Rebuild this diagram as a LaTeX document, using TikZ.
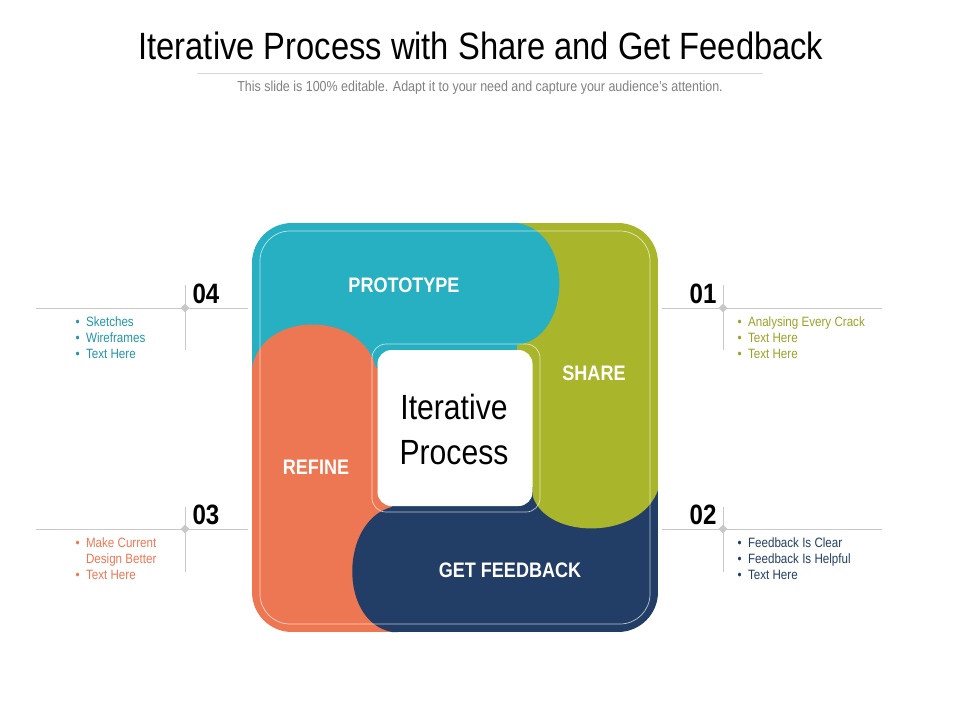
\documentclass[tikz,border=0pt]{standalone}
\usepackage{fontspec}
\setmainfont{Liberation Sans}[FakeStretch=0.86]
\usepackage{xcolor}
\definecolor{tealColor}{HTML}{27AFC2}
\definecolor{greenColor}{HTML}{A9B52A}
\definecolor{navyColor}{HTML}{223E66}
\definecolor{orangeColor}{HTML}{EE7753}
\definecolor{lineGray}{HTML}{C8C8C8}
\usetikzlibrary{positioning,calc,shapes.geometric}
\tikzset{
  stageLabel/.style={
    text=white,
    font=\bfseries\fontsize{21}{23}\selectfont
 },
  numLabel/.style={
    font=\bfseries\fontsize{28}{30}\selectfont,
    anchor=west
 },
  noteText/.style={
    anchor=north west,
    align=left,
    font=\fontsize{13.5}{16}\selectfont
 },
  guideLine/.style={
    draw=lineGray,
    line width=0.8pt
 },
  knot/.style={
    diamond,
    fill=lineGray,
    inner sep=0pt,
    minimum size=9pt
 }
}

\begin{document}
\begin{tikzpicture}[x=1pt,y=-1pt]

            \useasboundingbox (0,0) rectangle (960,720);

            % title
            \node (title) at (481,46) {\fontsize{38}{40}\selectfont Iterative Process with Share and Get Feedback};
            \draw[guideLine, draw=lineGray!70] (197,73) -- (763,73);
            \node[text=gray] (subtitle) at (480,88) {\fontsize{14.5}{16}\selectfont This slide is 100\% editable. Adapt it to your need and capture your audience's attention.};

            \begin{scope}
              \clip[rounded corners=40] (252,223) rectangle (658,632);
              % bodies
              \fill[tealColor] (252,223) rectangle (517,368);
              \fill[greenColor] (517,223) rectangle (658,487);
              \fill[navyColor] (392,487) rectangle (658,632);
              \fill[orangeColor] (252,368) rectangle (392,632);

              % bumps
              \fill[tealColor] (505,223) -- (517,223) .. controls (575,232) and (572,338) .. (517,345) -- (505,345) -- cycle;
              \fill[greenColor] (533,487) -- (533,497) .. controls (548,540) and (640,540) .. (658,490) -- (658,487) -- cycle;
              \fill[navyColor] (398,507) -- (392,507) .. controls (340,520) and (338,622) .. (392,632) -- (398,632) -- cycle;
              \fill[orangeColor] (252,368) .. controls (262,310) and (362,310) .. (376,368) -- cycle;
            \end{scope}

            % thin frames
            \draw[white, opacity=0.7, line width=0.7pt, rounded corners=30] (260,231) rectangle (650,624);
            \draw[white, opacity=0.7, line width=0.7pt, rounded corners=14] (372,344) rectangle (540,512);

            % centre card
            \node[fill=white, rounded corners=14, minimum width=155pt, minimum height=156pt] (core) at (455,428) {};
            \node[align=center, font=\fontsize{35}{45}\selectfont] (coreText) at (454,429) {Iterative\\Process};

            % stage names
            \node[stageLabel] (prototype) at (404,285) {PROTOTYPE};
            \node[stageLabel] (share) at (594,373) {SHARE};
            \node[stageLabel] (refine) at (316,467) {REFINE};
            \node[stageLabel] (feedback) at (510,570) {GET FEEDBACK};

            % left guides
            \draw[guideLine] (36,308) -- (248,308);
            \draw[guideLine] (185,285) -- (185,350);
            \node[knot] (k4) at (185,308) {};
            \node[numLabel] (n4) at (189,294) {04};
            \draw[guideLine] (36,529) -- (248,529);
            \draw[guideLine] (185,507) -- (185,572);
            \node[knot] (k3) at (185,529) {};
            \node[numLabel] (n3) at (189,515) {03};

            % right guides
            \draw[guideLine] (662,308) -- (882,308);
            \draw[guideLine] (723,285) -- (723,350);
            \node[knot] (k1) at (723,308) {};
            \node[numLabel, anchor=east] (n1) at (720,294) {01};
            \draw[guideLine] (662,529) -- (882,529);
            \draw[guideLine] (723,507) -- (723,572);
            \node[knot] (k2) at (723,529) {};
            \node[numLabel, anchor=east] (n2) at (720,515) {02};

            % notes
            \node[noteText, text=tealColor!85!black] (note4) at (72,313) {\textbullet\ \ Sketches\\\textbullet\ \ Wireframes\\\textbullet\ \ Text Here};
            \node[noteText, text=orangeColor] (note3) at (72,534) {\textbullet\ \ Make Current\\\phantom{\textbullet}\ \ Design Better\\\textbullet\ \ Text Here};
            \node[noteText, text=greenColor!90!black] (note1) at (734,313) {\textbullet\ \ Analysing Every Crack\\\textbullet\ \ Text Here\\\textbullet\ \ Text Here};
            \node[noteText, text=navyColor] (note2) at (734,534) {\textbullet\ \ Feedback Is Clear\\\textbullet\ \ Feedback Is Helpful\\\textbullet\ \ Text Here};

        \end{tikzpicture}
\end{document}
